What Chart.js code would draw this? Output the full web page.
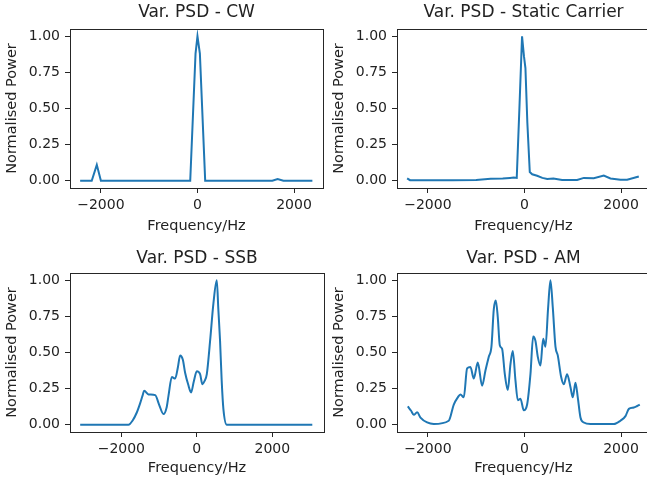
<!DOCTYPE html>
<html><head><meta charset="utf-8">
<script src="https://cdn.jsdelivr.net/npm/chart.js@4/dist/chart.umd.min.js"></script>
<style>
html,body{margin:0;padding:0;background:#fff;overflow:hidden;width:647px;height:484px;}
canvas{position:absolute;}
</style></head><body>
<canvas id="c1" style="left:0px;top:0px"></canvas>
<canvas id="c2" style="left:327px;top:0px"></canvas>
<canvas id="c3" style="left:0px;top:242px"></canvas>
<canvas id="c4" style="left:327px;top:242px"></canvas>
<script>
const xTicks = [-2000, 0, 2000];
const yTicks = [0, 0.25, 0.5, 0.75, 1.0];
const panelTitles = ['Var. PSD - CW', 'Var. PSD - Static Carrier', 'Var. PSD - SSB', 'Var. PSD - AM'];
const xLabel = 'Frequency/Hz';
const yLabel = 'Normalised Power';

const cwFreq  = [-2430, -2190, -2085, -2000, -150, -40, 0, 50, 160, 1550, 1660, 1780, 2380];
const cwPower = [0, 0, 0.11, 0, 0, 0.88, 1.0, 0.88, 0, 0, 0.012, 0, 0];

const scFreq  = [-2430, -2370, -2000, -1500, -1000, -700, -450, -300, -220, -160, -105, -50, -10, 20, 60, 110, 160, 262, 370, 470, 600, 780, 1090, 1230, 1436, 1643, 1781, 1988, 2127, 2368];
const scPower = [0.017, 0.004, 0.004, 0.004, 0.005, 0.014, 0.016, 0.02, 0.022, 0.02, 0.5, 1.0, 0.86, 0.78, 0.4, 0.06, 0.045, 0.035, 0.02, 0.012, 0.016, 0.005, 0.005, 0.02, 0.018, 0.036, 0.016, 0.007, 0.007, 0.03];

const ssbFreq  = [-3090, -1810, -1700, -1590, -1500, -1440, -1394, -1280, -1103, -1000, -884, -800, -751, -661, -574, -500, -442, -370, -310, -230, -151, -80, 0, 87, 148, 200, 265, 352, 440, 529, 570, 616, 660, 704, 794, 3060];
const ssbPower = [0, 0, 0.03, 0.085, 0.15, 0.2, 0.235, 0.21, 0.205, 0.14, 0.074, 0.12, 0.2, 0.33, 0.32, 0.4, 0.48, 0.45, 0.36, 0.28, 0.224, 0.3, 0.37, 0.35, 0.28, 0.3, 0.35, 0.58, 0.84, 1.0, 0.8, 0.58, 0.3, 0.11, 0, 0];

const amFreq  = [-2417, -2348, -2292, -2223, -2154, -2016, -1878, -1568, -1464, -1381, -1326, -1257, -1188, -1119, -1050, -967, -877, -808, -739, -684, -635, -594, -553, -511, -463, -407, -345, -290, -242, -186, -138, -83, -14, 55, 124, 180, 228, 276, 331, 387, 435, 490, 538, 587, 642, 690, 760, 814, 883, 953, 1001, 1056, 1104, 1160, 1229, 1367, 1850, 1988, 2092, 2162, 2264, 2333, 2388];
const amPower = [0.127, 0.097, 0.069, 0.086, 0.05, 0.016, 0.005, 0.028, 0.14, 0.19, 0.21, 0.19, 0.39, 0.40, 0.32, 0.43, 0.27, 0.375, 0.47, 0.54, 0.80, 0.86, 0.745, 0.55, 0.525, 0.35, 0.24, 0.42, 0.51, 0.305, 0.17, 0.18, 0.1, 0.14, 0.35, 0.61, 0.58, 0.47, 0.41, 0.595, 0.54, 0.81, 1.0, 0.81, 0.54, 0.48, 0.33, 0.28, 0.35, 0.26, 0.19, 0.29, 0.19, 0.05, 0.016, 0.005, 0.005, 0.028, 0.06, 0.11, 0.12, 0.13, 0.14];

const FONT = 'DejaVu Sans';
const TXT = '#222';

const framePlugin = {
  id: 'frame',
  afterDraw(chart) {
    const a = chart.chartArea, ctx = chart.ctx;
    ctx.save();
    ctx.strokeStyle = '#262626';
    ctx.lineWidth = 1;
    ctx.strokeRect(Math.round(a.left) + 0.5, Math.round(a.top) + 0.5, Math.round(a.right - a.left), Math.round(a.bottom - a.top));
    ctx.restore();
  }
};

function fmtX(v) { return v < 0 ? '\u2212' + Math.abs(v) : String(v); }

function makeChart(id, cfg) {
  const cv = document.getElementById(id);
  cv.width = cfg.w; cv.height = cfg.h;
  new Chart(cv, {
    type: 'line',
    data: { datasets: [{
      data: cfg.freq.map((f, i) => ({ x: f, y: cfg.power[i] })),
      borderColor: '#1f77b4', borderWidth: 2, pointRadius: 0, fill: false,
      tension: 0, cubicInterpolationMode: cfg.smooth ? 'monotone' : 'default'
    }] },
    options: {
      responsive: false, animation: false, devicePixelRatio: 1,
      layout: { padding: { top: cfg.padTop, left: 0, right: cfg.padRight, bottom: 0 } },
      plugins: {
        legend: { display: false }, tooltip: { enabled: false },
        title: { display: true, text: cfg.title, fullSize: false, color: TXT,
          font: { family: FONT, size: 17, weight: 'normal', lineHeight: 1.2 },
          padding: { top: 0, bottom: cfg.titleGap } }
      },
      scales: {
        x: {
          type: 'linear', min: cfg.xmin, max: cfg.xmax,
          afterBuildTicks: s => { s.ticks = xTicks.map(v => ({ value: v })); },
          afterFit: s => { s.height = cfg.xH; },
          ticks: { callback: v => fmtX(v), color: TXT, font: { family: FONT, size: 14 }, padding: 4, maxRotation: 0, autoSkip: false },
          grid: { drawOnChartArea: false, drawTicks: true, tickLength: 5, color: '#262626' },
          border: { display: false },
          title: { display: true, text: xLabel, color: TXT, font: { family: FONT, size: 14.5 }, padding: { top: 0, bottom: 7 } }
        },
        y: {
          type: 'linear', min: -0.05, max: 1.05,
          afterBuildTicks: s => { s.ticks = yTicks.map(v => ({ value: v })); },
          afterFit: s => { s.width = 70; },
          ticks: { callback: v => Number(v).toFixed(2), color: TXT, font: { family: FONT, size: 14 }, padding: 5, autoSkip: false },
          grid: { drawOnChartArea: false, drawTicks: true, tickLength: 5, color: '#262626' },
          border: { display: false },
          title: { display: true, text: yLabel, color: TXT, font: { family: FONT, size: 14.5 }, padding: { top: 4, bottom: 0 } }
        }
      }
    },
    plugins: [framePlugin]
  });
}

makeChart('c1', { w: 326, h: 242, freq: cwFreq, power: cwPower, title: panelTitles[0], xmin: -2640, xmax: 2600, padTop: 2.3, titleGap: 6.3, padRight: 3, xH: 54, smooth: false });
makeChart('c2', { w: 326, h: 242, freq: scFreq, power: scPower, title: panelTitles[1], xmin: -2640, xmax: 2600, padTop: 2.3, titleGap: 6.3, padRight: 3, xH: 54, smooth: false });
makeChart('c3', { w: 326, h: 242, freq: ssbFreq, power: ssbPower, title: panelTitles[2], xmin: -3360, xmax: 3370, padTop: 6.3, titleGap: 4.3, padRight: 2, xH: 52, smooth: true });
makeChart('c4', { w: 326, h: 242, freq: amFreq, power: amPower, title: panelTitles[3], xmin: -2640, xmax: 2600, padTop: 6.3, titleGap: 4.3, padRight: 3, xH: 52, smooth: true });
</script>
</body></html>
